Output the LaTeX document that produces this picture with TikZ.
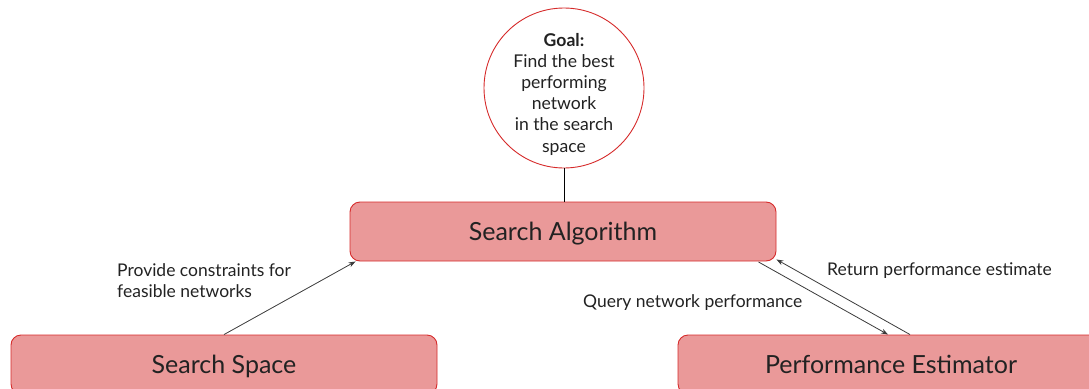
\documentclass[tikz,border=0pt]{standalone}
\usepackage{fontspec}
\setmainfont{Lato}
\usetikzlibrary{arrows.meta}
\definecolor{boxfill}{HTML}{EA9999}
\definecolor{boxline}{HTML}{D62B2B}
\definecolor{ink}{HTML}{222222}
\definecolor{wire}{HTML}{3A3A3A}
\tikzset{
  block/.style={draw=boxline, line width=0.9pt, fill=boxfill, rounded corners=10pt,
    minimum width=426pt, minimum height=59pt, inner sep=0pt, text=ink,
    text height=18pt, text depth=0pt,
    font=\fontsize{25}{29}\selectfont},
  goal/.style={circle, draw=boxline, line width=0.9pt, fill=white, minimum size=160pt,
    inner sep=0pt},
  goaltxt/.style={align=center, text=ink, inner sep=0pt, font=\fontsize{17.6}{21.2}\selectfont},
  flow/.style={draw=wire, line width=0.8pt, -{Stealth[length=7pt,width=5pt]}},
  note/.style={text=ink, font=\fontsize{17.5}{21}\selectfont, inner sep=0pt},
}
\begin{document}
\begin{tikzpicture}[x=1pt, y=-1pt]
\useasboundingbox (0,0) rectangle (1089,388);
% goal circle and its text
\node[goal] (goal) at (564,88) {};
\node[goaltxt] (goaltext) at (564,94) {\textbf{Goal:}\\Find the best\\performing\\network\\in the search\\space};
% the three blocks
\node[block] (alg) at (563,231.5) {Search Algorithm};
\node[block] (space) at (224,364.5) {Search Space};
\node[block] (est) at (891,364.5) {Performance Estimator};
\draw[draw=black, line width=0.8pt] (goal.south) -- (goal.south |- alg.north);
% connectors between the blocks
\draw[flow] (space.north) -- ([xshift=6pt]alg.south west);
\draw[flow] ([xshift=-18pt,yshift=-0.5pt]alg.south east) -- ([xshift=-3pt]est.north);
\draw[flow] ([xshift=19pt]est.north) -- ([yshift=2pt]alg.south east);
% connector labels
\node[note, anchor=west, align=left] (lprov) at (117,281) {Provide constraints for\\feasible networks};
\node[note, anchor=west] (lquery) at (583,302.5) {Query network performance};
\node[note, anchor=west] (lret) at (827,270.5) {Return performance estimate};
\end{tikzpicture}
\end{document}
